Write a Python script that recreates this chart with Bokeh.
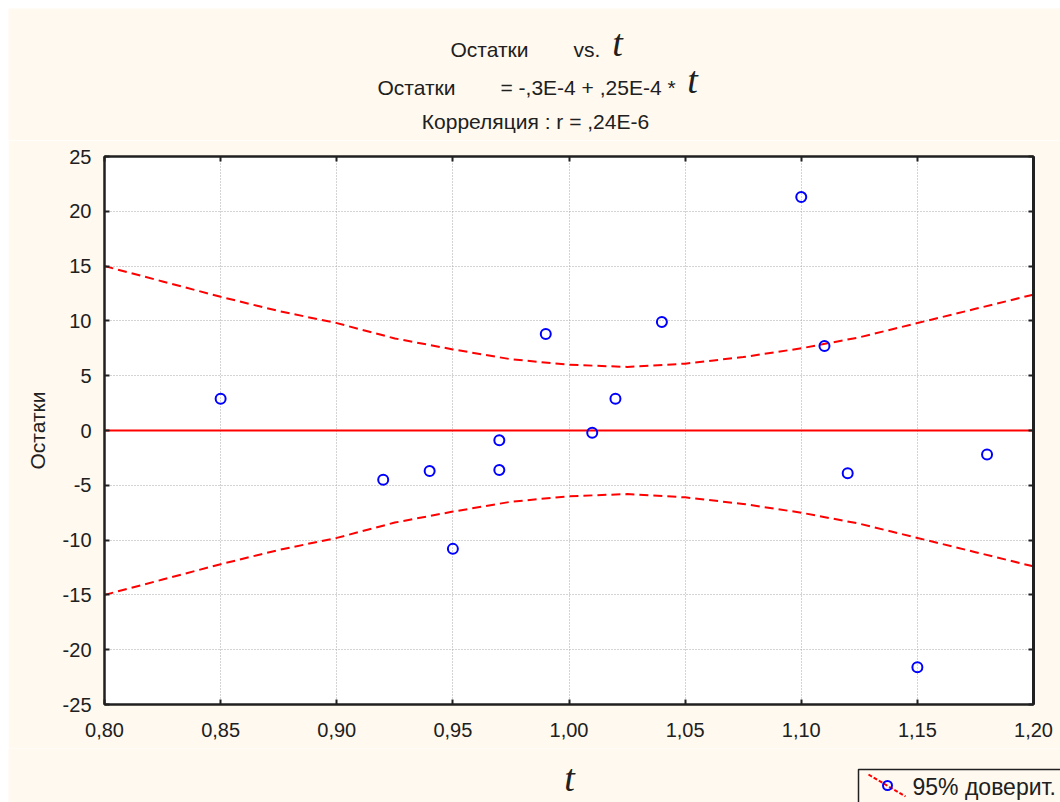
from bokeh.plotting import figure
from bokeh.layouts import column
from bokeh.models import Range1d, FixedTicker, LinearAxis, CustomJSTickFormatter
from bokeh.core.properties import value
from bokeh.embed import file_html
from bokeh.resources import INLINE

# ---- data ----
t_vals = [0.85, 0.92, 0.94, 0.95, 0.97, 0.97, 0.99, 1.01, 1.02, 1.04, 1.10, 1.11, 1.12, 1.15, 1.18]
resid = [2.9, -4.5, -3.7, -10.8, -0.9, -3.6, 8.8, -0.2, 2.9, 9.9, 21.3, 7.7, -3.9, -21.6, -2.2]

band_t = [0.80, 0.825, 0.85, 0.875, 0.90, 0.925, 0.95, 0.975, 1.00, 1.025,
          1.05, 1.075, 1.10, 1.125, 1.15, 1.175, 1.20]
band_upper = [15.0, 13.6, 12.2, 10.9, 9.8, 8.4, 7.4, 6.5, 6.0, 5.8,
              6.1, 6.7, 7.5, 8.5, 9.8, 11.1, 12.4]
band_lower = [-v for v in band_upper]

fit_t = [0.80, 1.20]
fit_y = [0.0, 0.0]

x_ticks = [0.80, 0.85, 0.90, 0.95, 1.00, 1.05, 1.10, 1.15, 1.20]
y_ticks = [-25, -20, -15, -10, -5, 0, 5, 10, 15, 20, 25]

title1a = "Остатки"
title1b = "vs."
title2a = "Остатки"
title2b = "= -,3E-4 + ,25E-4 *"
title3 = "Корреляция : r = ,24E-6"
var_t = "t"
ylab = "Остатки"
legend_label = "95% доверит."

# ---- style / layout (page pixels) ----
CREAM = "#FFF9EF"
TXT = "#202020"
SANS = "Liberation Sans"
SERIF = "Liberation Serif"
DARK = "#202020"
PAGE_W, PAGE_H, M = 1060, 802, 8
HEAD_BOT, FOOT_TOP = 140, 748
FL, FR, FT, FB = 104, 1033, 156, 704


def blank_fig(h, y0, y1):
    f = figure(width=PAGE_W - M, height=h, output_backend="svg", toolbar_location=None,
               x_range=Range1d(M, PAGE_W), y_range=Range1d(y1, y0),
               x_axis_type=None, y_axis_type=None, min_border=0, frame_align=False)
    f.grid.visible = False
    f.outline_line_color = None
    f.background_fill_color = CREAM
    f.border_fill_color = CREAM
    return f


# ---- header with the titles ----
head = blank_fig(HEAD_BOT - M, M, HEAD_BOT)
head.text(x=[450, 377], y=[49, 87], text=[title1a, title2a], text_font=value(SANS),
          text_font_size="21px", text_color=TXT, text_baseline="middle")
head.text(x=[573, 500], y=[49, 87], text=[title1b, title2b], text_font=value(SANS),
          text_font_size="21px", text_color=TXT, text_baseline="middle")
head.text(x=[617, 692], y=[42, 79], text=[var_t, var_t], text_font=value(SERIF),
          text_font_style="italic", text_font_size="38px", text_color=TXT,
          text_align="center", text_baseline="middle")
head.text(x=[535], y=[121], text=[title3], text_font=value(SANS), text_font_size="21px",
          text_color=TXT, text_align="center", text_baseline="middle")

# ---- main plot ----
p = figure(width=PAGE_W - M, height=FOOT_TOP - HEAD_BOT, output_backend="svg",
           toolbar_location=None, x_range=Range1d(0.80, 1.20), y_range=Range1d(-25, 25),
           min_border_left=FL - M, min_border_right=PAGE_W - FR,
           min_border_top=FT - HEAD_BOT, min_border_bottom=FOOT_TOP - FB,
           frame_align=False)
p.background_fill_color = "white"
p.border_fill_color = CREAM
p.outline_line_color = DARK
p.outline_line_width = 2

p.xaxis.ticker = FixedTicker(ticks=x_ticks)
p.xaxis.formatter = CustomJSTickFormatter(code="return tick.toFixed(2).replace('.', ',');")
p.xaxis.major_label_standoff = 18
p.yaxis.ticker = FixedTicker(ticks=y_ticks)
p.yaxis.formatter = CustomJSTickFormatter(code="return tick.toFixed(0);")
p.yaxis.major_label_standoff = 13
p.yaxis.axis_label = ylab
p.yaxis.axis_label_standoff = 11
p.yaxis.axis_label_text_font = SANS
p.yaxis.axis_label_text_font_size = "21px"
p.yaxis.axis_label_text_font_style = "normal"
p.yaxis.axis_label_text_color = TXT

for ax in list(p.xaxis) + list(p.yaxis):
    ax.axis_line_color = DARK
    ax.axis_line_width = 2
    ax.major_tick_in = 5
    ax.major_tick_out = 0
    ax.major_tick_line_color = DARK
    ax.major_tick_line_width = 2
    ax.minor_tick_line_color = None
    ax.major_label_text_font = SANS
    ax.major_label_text_font_size = "20px"
    ax.major_label_text_color = TXT

for side, ticks, lw in (("above", x_ticks, 2), ("right", y_ticks, 3)):
    ax = LinearAxis(ticker=FixedTicker(ticks=ticks), major_label_text_color=None,
                    major_label_text_font_size="1px", major_label_standoff=0,
                    major_tick_in=5, major_tick_out=0, minor_tick_line_color=None,
                    axis_line_color=DARK, axis_line_width=lw,
                    major_tick_line_color=DARK, major_tick_line_width=2)
    p.add_layout(ax, side)

p.xgrid.ticker = FixedTicker(ticks=x_ticks)
p.ygrid.ticker = FixedTicker(ticks=y_ticks)
for g in (p.xgrid, p.ygrid):
    g.grid_line_color = "#A8A8A8"
    g.grid_line_dash = "1 2"
    g.grid_line_width = 1

p.line(fit_t, fit_y, line_color="#FF0000", line_width=2)
p.line(band_t, band_upper, line_color="#FF0000", line_width=2, line_dash="9 5")
p.line(band_t, band_lower, line_color="#FF0000", line_width=2, line_dash="9 5")
p.scatter(t_vals, resid, size=10, marker="circle", fill_color=None,
          line_color="#0000FF", line_width=2)

# ---- footer: x label and legend ----
foot = blank_fig(PAGE_H - FOOT_TOP, FOOT_TOP, PAGE_H)
foot.text(x=[569], y=[777], text=[var_t], text_font=value(SERIF), text_font_style="italic",
          text_font_size="38px", text_color=TXT, text_align="center",
          text_baseline="middle")
foot.quad(left=[858], right=[1075], top=[769], bottom=[815], fill_color=CREAM,
          line_color=DARK, line_width=1.5)
foot.line(x=[868, 905], y=[774, 796], line_color="#FF0000", line_width=2, line_dash="4 2")
foot.scatter(x=[887], y=[785], size=9, marker="circle", fill_color=None,
             line_color="#0000FF", line_width=2)
foot.text(x=[912], y=[786], text=[legend_label], text_font=value(SANS),
          text_font_size="23px", text_color=TXT, text_baseline="middle")

layout = column(head, p, foot, spacing=0, margin=(M, 0, 0, M),
                styles={"background-color": "white"})
open("out.html", "w").write(file_html(layout, INLINE))
